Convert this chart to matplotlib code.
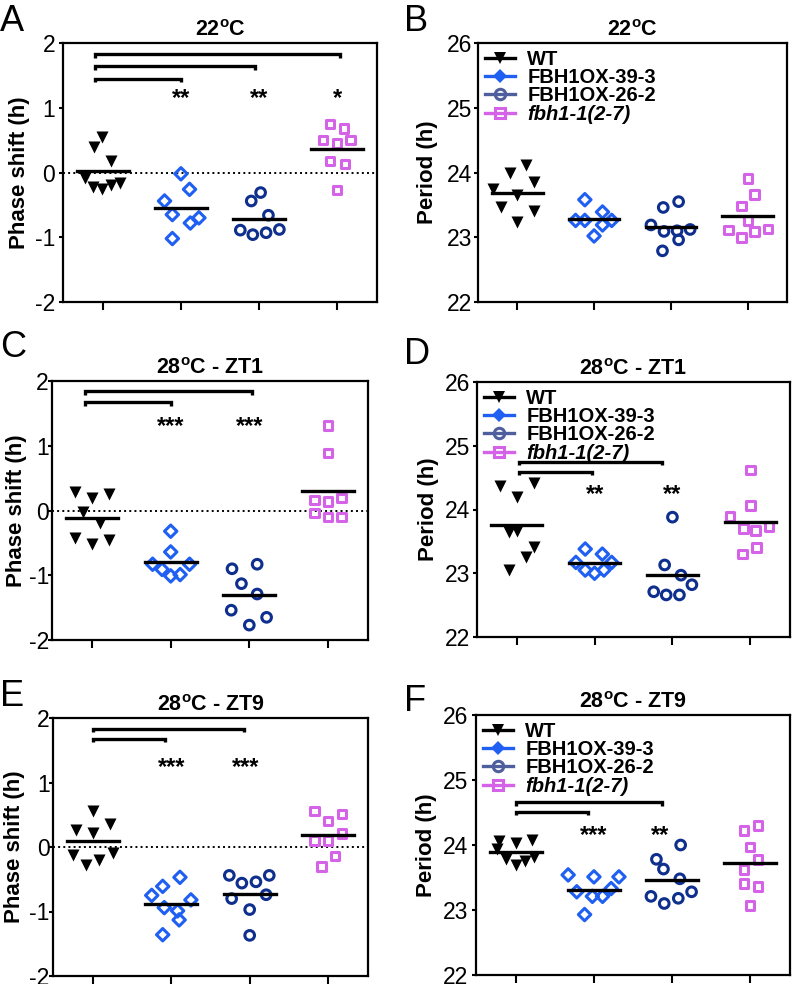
import matplotlib
matplotlib.use('Agg')
import numpy
import matplotlib.pyplot as plt
from matplotlib.lines import Line2D

plt.rcParams['font.family'] = ['Liberation Sans', 'DejaVu Sans']
plt.rcParams['mathtext.fontset'] = 'custom'
plt.rcParams['mathtext.rm'] = 'Liberation Sans'
plt.rcParams['mathtext.bf'] = 'Liberation Sans:bold'
plt.rcParams['axes.unicode_minus'] = False

GENOTYPES = ['WT', 'FBH1OX-39-3', 'FBH1OX-26-2', 'fbh1-1(2-7)']

# --- values (phase shift / period in h), plus x jitter of each point
A_WT = [0.55, 0.40, 0.17, -0.09, -0.22, -0.25, -0.19, -0.16]
A_OX39 = [-0.02, -0.26, -0.44, -0.65, -0.78, -0.70, -1.02]
A_OX26 = [-0.44, -0.31, -0.66, -0.89, -0.96, -0.93, -0.88]
A_FBH = [0.75, 0.68, 0.50, 0.45, 0.50, 0.18, 0.13, -0.27]
A_DX = [[-0.01, -0.11, 0.11, -0.23, -0.12, -0.01, 0.11, 0.22],
        [0, 0.11, -0.21, -0.11, 0.12, 0.23, -0.11],
        [-0.10, 0.02, 0.12, -0.24, -0.08, 0.09, 0.26],
        [-0.09, 0.09, -0.18, 0, 0.17, -0.09, 0.10, 0]]

B_WT = [24.12, 24.00, 23.86, 23.74, 23.65, 23.47, 23.41, 23.24]
B_OX39 = [23.58, 23.26, 23.26, 23.39, 23.26, 23.19, 23.02]
B_OX26 = [23.46, 23.55, 23.19, 23.09, 23.10, 23.12, 22.96, 22.79]
B_FBH = [23.91, 23.66, 23.48, 23.26, 23.11, 23.00, 23.09, 23.13]
B_DX = [[0.12, -0.10, 0.22, -0.31, 0, -0.21, 0.22, 0],
        [-0.12, -0.24, -0.12, 0.11, 0.23, 0.11, 0],
        [-0.10, 0.10, -0.26, -0.09, 0.08, 0.25, 0.10, -0.11],
        [0, 0.09, -0.08, 0, -0.25, -0.08, 0.09, 0.26]]

C_WT = [0.29, 0.20, 0.25, -0.03, -0.20, -0.42, -0.51, -0.45]
C_OX39 = [-0.32, -0.64, -0.83, -0.91, -1.01, -0.99, -0.83]
C_OX26 = [-0.90, -0.83, -1.13, -1.29, -1.54, -1.65, -1.77]
C_FBH = [1.31, 0.89, 0.16, 0.14, 0.19, -0.04, -0.10, -0.10]
C_DX = [[-0.22, 0, 0.22, -0.12, 0.10, -0.22, 0, 0.22],
        [0, 0, -0.23, -0.11, 0, 0.12, 0.24],
        [-0.22, 0.10, -0.10, 0.10, -0.23, 0.22, 0],
        [0, 0, -0.17, 0, 0.17, -0.17, 0, 0.17]]

D_WT = [24.37, 24.41, 24.19, 23.65, 23.67, 23.41, 23.25, 23.05]
D_OX39 = [23.38, 23.30, 23.17, 23.17, 23.05, 23.00, 23.05]
D_OX26 = [23.88, 23.13, 22.97, 22.82, 22.71, 22.66, 22.66]
D_FBH = [24.62, 24.06, 23.89, 23.70, 23.67, 23.73, 23.40, 23.30]
D_DX = [[-0.21, 0.22, 0, -0.10, 0, 0.22, 0.12, -0.10],
        [-0.12, 0.10, -0.24, 0.22, -0.12, 0, 0.12],
        [0, -0.10, 0.11, 0.25, -0.24, -0.08, 0.09],
        [0, 0, -0.26, -0.09, 0.07, 0.24, 0.08, -0.10]]

E_WT = [0.56, 0.27, 0.22, 0.35, -0.12, -0.28, -0.20, -0.10]
E_OX39 = [-0.47, -0.61, -0.75, -0.82, -0.94, -0.99, -1.13, -1.36]
E_OX26 = [-0.44, -0.56, -0.54, -0.44, -0.80, -0.74, -0.97, -1.37]
E_FBH = [0.56, 0.40, 0.51, 0.21, 0.10, 0.10, -0.14, -0.30]
E_DX = [[0, -0.22, 0, 0.22, -0.26, -0.09, 0.08, 0.25],
        [0.11, -0.11, -0.25, 0.25, -0.09, 0.08, 0.10, -0.11],
        [-0.26, -0.10, 0.08, 0.25, -0.23, 0.21, 0, 0],
        [-0.17, 0, 0.18, 0.18, -0.17, 0, 0.09, -0.08]]

F_WT = [24.06, 24.03, 24.08, 23.94, 23.79, 23.69, 23.75, 23.81]
F_OX39 = [23.54, 23.51, 23.51, 23.28, 23.21, 23.21, 23.33, 22.93]
F_OX26 = [24.00, 23.78, 23.63, 23.48, 23.28, 23.21, 23.10, 23.18]
F_FBH = [24.30, 24.22, 23.97, 23.78, 23.62, 23.41, 23.36, 23.07]
F_DX = [[-0.21, 0, 0.21, -0.24, -0.12, 0, 0.12, 0.23],
        [-0.33, 0, 0.32, -0.22, -0.02, 0.11, 0.22, -0.12],
        [0.11, -0.20, -0.11, 0.10, 0.25, -0.27, -0.10, 0.08],
        [0.10, -0.08, 0, 0.10, -0.08, -0.08, 0.10, 0]]

# significance brackets (x from, x to, height) and stars (x, label)
A_BRACKETS = [(-0.1, 1.0, 1.45), (-0.1, 1.95, 1.64), (-0.1, 3.03, 1.83)]
A_STARS = [(1, '**'), (2, '**'), (3, '*')]
C_BRACKETS = [(-0.09, 1.0, 1.675), (-0.09, 2.04, 1.845)]
C_STARS = [(1, '***'), (2, '***')]
D_BRACKETS = [(0.03, 0.97, 24.59), (0.03, 1.86, 24.75)]
D_STARS = [(1, '**'), (2, '**')]
E_BRACKETS = [(0, 0.92, 1.68), (0, 1.93, 1.835)]
E_STARS = [(1, '***'), (1.95, '***')]
F_BRACKETS = [(0, 0.93, 24.51), (0, 1.87, 24.66)]
F_STARS = [(1, '***'), (1.85, '**')]

COLORS = ['black', '#1f5ff2', '#0f2f8e', '#d563e8']
LEGEND_COLORS = ['black', '#1f5ff2', '#4f5f9e', '#d563e8']
MARKERS = ['v', 'D', 'o', 's']
SIZES = [75, 40, 48, 38]
FILLED = [True, False, False, False]


def draw_panel(ax, groups, offsets, title, phase, label_x, ypad, brackets=(), stars=(), star_y=None,
               legend=False):
    for i, (values, dx) in enumerate(zip(groups, offsets)):
        x = i + numpy.array(dx)
        if FILLED[i]:
            ax.scatter(x, values, marker=MARKERS[i], s=SIZES[i], color=COLORS[i], linewidths=0, zorder=3)
        else:
            ax.scatter(x, values, marker=MARKERS[i], s=SIZES[i], facecolors='none',
                       edgecolors=COLORS[i], linewidths=2.2, zorder=3)
        ax.plot([i - 0.33, i + 0.33], [numpy.mean(values)] * 2, color='black', lw=2.4, zorder=4)
    if phase:
        ax.axhline(0, color='black', ls=':', lw=1.4, zorder=1)
        ax.set_ylim(-2, 2)
        ax.set_yticks([-2, -1, 0, 1, 2])
        ax.set_ylabel('Phase shift (h)', fontsize=16, fontweight='bold')
    else:
        ax.set_ylim(22, 26)
        ax.set_yticks([22, 23, 24, 25, 26])
        ax.set_ylabel('Period (h)', fontsize=16, fontweight='bold')
    ax.yaxis.set_label_coords(label_x, 0.5)
    drop = 0.055
    for x0, x1, y in brackets:
        ax.plot([x0, x0, x1, x1], [y - drop, y, y, y - drop], color='black', lw=2.4,
                solid_capstyle='butt', solid_joinstyle='miter', zorder=2)
    for gx, label in stars:
        ax.text(gx, star_y, label, ha='center', va='center', fontsize=17, fontweight='bold')
    ax.set_xlim(-0.51, 3.51)
    ax.set_xticks(range(4))
    ax.set_xticklabels([])
    ax.set_title(title, fontsize=15.5, fontweight='bold', pad=5)
    ax.tick_params(axis='both', direction='out', width=1.5, labelsize=16.5)
    ax.tick_params(axis='x', length=6)
    ax.tick_params(axis='y', length=3, pad=ypad)
    for spine in ax.spines.values():
        spine.set_linewidth(1.6)
    if legend:
        handles = []
        for i in range(4):
            handles.append(Line2D([0], [0], color=LEGEND_COLORS[i], lw=2.4, marker=MARKERS[i],
                                  markersize=[9, 7, 7.5, 6.5][i],
                                  markerfacecolor=LEGEND_COLORS[i] if i < 2 else 'none',
                                  markeredgecolor=LEGEND_COLORS[i], markeredgewidth=[0, 0, 2.2, 2.2][i]))
        leg = ax.legend(handles, GENOTYPES, loc='upper left', frameon=False,
                        prop={'weight': 'bold', 'size': 14.5}, handlelength=1.5, handletextpad=0.6,
                        labelspacing=-0.04, borderaxespad=0.1, borderpad=0.25)
        leg.get_texts()[3].set_style('italic')


fig = plt.figure(figsize=(7.96, 9.84), dpi=100)
W, H = 796, 984


def make_axes(left, top, right, bottom):
    return fig.add_axes([left / W, 1 - bottom / H, (right - left) / W, (bottom - top) / H])


axA = make_axes(63, 43, 377, 302)
axB = make_axes(478, 43, 787, 302)
axC = make_axes(52, 381, 368, 640)
axD = make_axes(477, 382, 790, 637)
axE = make_axes(53, 718, 368, 976)
axF = make_axes(476, 715, 790, 975)

draw_panel(axA, [A_WT, A_OX39, A_OX26, A_FBH], A_DX, r'22$^{\mathbf{o}}$C', True, -0.105, 2.5,
           A_BRACKETS, A_STARS, 1.14)
draw_panel(axB, [B_WT, B_OX39, B_OX26, B_FBH], B_DX, r'22$^{\mathbf{o}}$C', False, -0.13, 1.5, legend=True)
draw_panel(axC, [C_WT, C_OX39, C_OX26, C_FBH], C_DX, r'28$^{\mathbf{o}}$C - ZT1', True, -0.08, -0.8,
           C_BRACKETS, C_STARS, 1.29)
draw_panel(axD, [D_WT, D_OX39, D_OX26, D_FBH], D_DX, r'28$^{\mathbf{o}}$C - ZT1', False, -0.12, 2.0,
           D_BRACKETS, D_STARS, 24.23, legend=True)
draw_panel(axE, [E_WT, E_OX39, E_OX26, E_FBH], E_DX, r'28$^{\mathbf{o}}$C - ZT9', True, -0.089, -0.6,
           E_BRACKETS, E_STARS, 1.23)
draw_panel(axF, [F_WT, F_OX39, F_OX26, F_FBH], F_DX, r'28$^{\mathbf{o}}$C - ZT9', False, -0.124, 2.5,
           F_BRACKETS, F_STARS, 24.14, legend=True)

for letter, x, y in [('A', 0, 4), ('B', 404, 4), ('C', 0, 330), ('D', 404, 337), ('E', 0, 679), ('F', 404, 684)]:
    fig.text(x / W, 1 - y / H, letter, fontsize=26, va='top', ha='left')

fig.savefig('out.png', dpi=100)
